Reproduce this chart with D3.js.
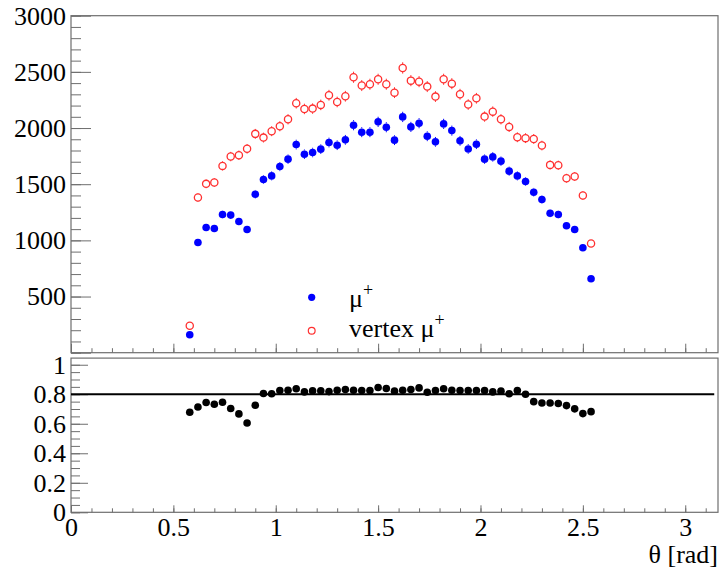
<!DOCTYPE html>
<html>
<head>
<meta charset="utf-8">
<script src="https://cdn.jsdelivr.net/npm/d3@7"></script>
<style>
  body { margin: 0; background: #fff; }
</style>
</head>
<body>
<div class="chart"></div>
<script>
const svgWidth = 720;
const svgHeight = 569;

// data: bin centres in theta (rad)
const theta = d3.range(50).map(i => +(0.58 + 0.04 * i).toFixed(2));

// mu+ counts (blue, filled)
const muCounts = [160, 981, 1115, 1106, 1230, 1225, 1168, 1097, 1411, 1542,
  1574, 1657, 1723, 1853, 1767, 1782, 1812, 1871, 1847, 1895,
  2025, 1963, 1963, 2055, 2007, 1892, 2099, 2010, 2043, 1927,
  1877, 2037, 1977, 1886, 1814, 1856, 1723, 1743, 1705, 1616,
  1574, 1524, 1429, 1364, 1242, 1230, 1130, 1097, 934, 658];

// vertex mu+ counts (red, open)
const vertexCounts = [240, 1381, 1503, 1515, 1663, 1746, 1758, 1815, 1948, 1915,
  1972, 2016, 2078, 2221, 2170, 2173, 2206, 2292, 2232, 2283,
  2452, 2378, 2390, 2434, 2390, 2315, 2535, 2422, 2413, 2369,
  2280, 2434, 2395, 2301, 2209, 2265, 2102, 2146, 2078, 2010,
  1918, 1910, 1903, 1844, 1672, 1669, 1553, 1568, 1399, 972];

// ratio panel (black)
const ratio = [0.678, 0.714, 0.744, 0.732, 0.746, 0.703, 0.667, 0.605, 0.725, 0.805,
  0.803, 0.825, 0.827, 0.837, 0.816, 0.823, 0.823, 0.818, 0.827, 0.832,
  0.827, 0.825, 0.825, 0.846, 0.839, 0.821, 0.827, 0.832, 0.843, 0.814,
  0.825, 0.837, 0.827, 0.825, 0.825, 0.825, 0.825, 0.816, 0.821, 0.803,
  0.825, 0.800, 0.750, 0.741, 0.741, 0.737, 0.723, 0.701, 0.669, 0.682];

const refLevel = 0.8;
const refRange = [0, Math.PI];

// ticks
const topYMajor = [0, 500, 1000, 1500, 2000, 2500, 3000];
const topYMinor = d3.range(0, 3001, 100);
const botYMajor = [0, 0.2, 0.4, 0.6, 0.8, 1];
const botYMinor = d3.range(0, 1.04, 0.05);
const xMajor = [0, 0.5, 1, 1.5, 2, 2.5, 3];
const xMinor = d3.range(0, 3.15, 0.1);

const legendLabels = ["μ", "vertex μ"];

const font = "'Liberation Serif', 'Times New Roman', serif";

const svg = d3.select(".chart")
  .append("svg")
  .attr("width", svgWidth)
  .attr("height", svgHeight);

// scales
const xScale = d3.scaleLinear().domain([0, 3.16]).range([71, 718]);
const yTop = d3.scaleLinear().domain([0, 3000]).range([352.7, 15.7]);
const yBot = d3.scaleLinear().domain([0, 1.045]).range([512.3, 358.1]);

const frameColor = "#6e6e6e";

function yAxis(scale, major, minor, majLen, minLen, labels, fmt) {
  svg.append("g")
    .attr("transform", `translate(${xScale(0)},0)`)
    .call(d3.axisLeft(scale).tickValues(minor).tickSize(-minLen).tickFormat(""))
    .call(g => g.select(".domain").remove())
    .call(g => g.selectAll("line").attr("stroke", frameColor));
  svg.append("g")
    .attr("transform", `translate(${xScale(0)},0)`)
    .call(d3.axisLeft(scale).tickValues(major).tickSize(-majLen).tickPadding(5)
      .tickFormat(d => labels.includes(d) ? fmt(d) : ""))
    .call(g => g.select(".domain").remove())
    .call(g => g.selectAll("line").attr("stroke", frameColor))
    .call(g => g.selectAll("text").attr("fill", "#000"));
}

function xAxis(y0, majLen, minLen, withLabels) {
  svg.append("g")
    .attr("transform", `translate(0,${y0})`)
    .call(d3.axisBottom(xScale).tickValues(xMinor).tickSize(-minLen).tickFormat(""))
    .call(g => g.select(".domain").remove())
    .call(g => g.selectAll("line").attr("stroke", frameColor));
  svg.append("g")
    .attr("transform", `translate(0,${y0})`)
    .call(d3.axisBottom(xScale).tickValues(xMajor).tickSize(-majLen).tickPadding(5)
      .tickFormat(d => withLabels ? d3.format("~g")(d) : ""))
    .call(g => g.select(".domain").remove())
    .call(g => g.selectAll("line").attr("stroke", frameColor))
    .call(g => g.selectAll("text").attr("fill", "#000"));
}

// frames
[yTop, yBot].forEach(ys => {
  svg.append("rect")
    .attr("x", xScale(0))
    .attr("y", ys.range()[1])
    .attr("width", xScale.range()[1] - xScale(0))
    .attr("height", ys.range()[0] - ys.range()[1])
    .attr("fill", "none")
    .attr("stroke", frameColor)
    .attr("stroke-width", 1.2);
});

yAxis(yTop, topYMajor, topYMinor, 20, 10, topYMajor.slice(1), d3.format("d"));
xAxis(yTop.range()[0], 9, 4.5, false);
yAxis(yBot, botYMajor, botYMinor, 17, 9, botYMajor, d3.format("~g"));
xAxis(yBot.range()[0], 7, 4, true);

// axis title
svg.append("text")
  .attr("x", 718)
  .attr("y", 563)
  .attr("text-anchor", "end")
  .text("θ [rad]");

// reference line in ratio panel
svg.append("line")
  .attr("x1", xScale(refRange[0]))
  .attr("x2", xScale(refRange[1]))
  .attr("y1", yBot(refLevel))
  .attr("y2", yBot(refLevel))
  .attr("stroke", "#000")
  .attr("stroke-width", 1.8);

// error bars (Poisson), drawn outside the marker like ROOT does
const topGroup = svg.append("g");
function errBars(vals, color, r) {
  topGroup.selectAll(null)
    .data(vals)
    .enter()
    .append("line")
    .attr("x1", (d, i) => xScale(theta[i]))
    .attr("x2", (d, i) => xScale(theta[i]))
    .attr("y1", d => yTop(d) - r)
    .attr("y2", d => Math.min(yTop(d) - r, yTop(d + Math.sqrt(d))))
    .attr("stroke", color);
  topGroup.selectAll(null)
    .data(vals)
    .enter()
    .append("line")
    .attr("x1", (d, i) => xScale(theta[i]))
    .attr("x2", (d, i) => xScale(theta[i]))
    .attr("y1", d => yTop(d) + r)
    .attr("y2", d => Math.max(yTop(d) + r, yTop(d - Math.sqrt(d))))
    .attr("stroke", color);
}
errBars(vertexCounts, "#ff3030", 3.6);
errBars(muCounts, "#0000ff", 3.8);

// vertex mu+ open circles
topGroup.selectAll(null)
  .data(vertexCounts)
  .enter()
  .append("circle")
  .attr("cx", (d, i) => xScale(theta[i]))
  .attr("cy", d => yTop(d))
  .attr("r", 3.6)
  .attr("fill", "none")
  .attr("stroke", "#ff3030")
  .attr("stroke-width", 1.3);

// mu+ filled circles
topGroup.selectAll(null)
  .data(muCounts)
  .enter()
  .append("circle")
  .attr("cx", (d, i) => xScale(theta[i]))
  .attr("cy", d => yTop(d))
  .attr("r", 3.8)
  .attr("fill", "#0000ff");

// ratio points
svg.append("g").selectAll("circle")
  .data(ratio)
  .enter()
  .append("circle")
  .attr("cx", (d, i) => xScale(theta[i]))
  .attr("cy", d => yBot(d))
  .attr("r", 3.8)
  .attr("fill", "#000");

// legend
const legend = svg.append("g");
legend.append("circle")
  .attr("cx", 311.7).attr("cy", 297.3).attr("r", 3.6)
  .attr("fill", "#0000ff");
legend.append("circle")
  .attr("cx", 311.7).attr("cy", 330.7).attr("r", 3.4)
  .attr("fill", "none").attr("stroke", "#ff3030").attr("stroke-width", 1.2);

legendLabels.forEach((lab, i) => {
  const t = legend.append("text")
    .attr("x", 349)
    .attr("y", i === 0 ? 306.5 : 336.5);
  t.append("tspan").text(lab);
  t.append("tspan").attr("class", "sup").attr("dy", -11).text("+");
});

// fonts: Times-like everywhere
svg.selectAll("text")
  .style("font-family", font)
  .style("font-size", "26px");
svg.selectAll("tspan.sup").style("font-size", "18px");
</script>
</body>
</html>
